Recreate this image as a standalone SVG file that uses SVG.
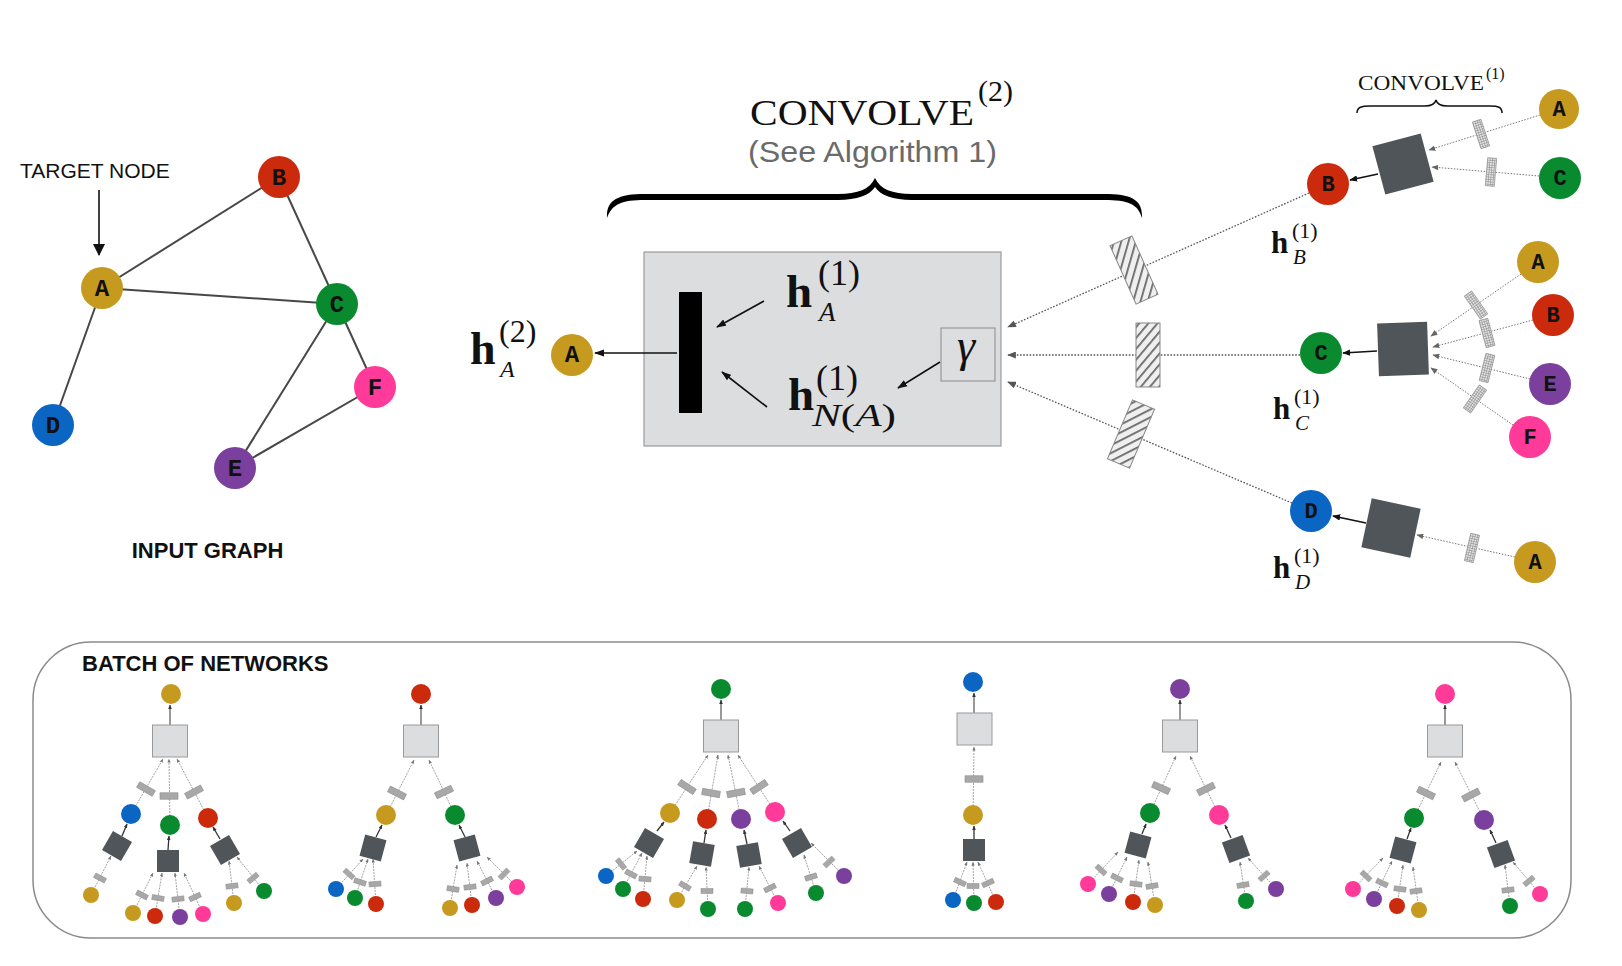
<svg xmlns="http://www.w3.org/2000/svg" width="1622" height="966" viewBox="0 0 1622 966">
<defs>
<style>
.edge{stroke:#474747;stroke-width:2;fill:none}
.lbl{font-family:"Liberation Mono","DejaVu Sans Mono",monospace;font-weight:bold;font-size:24px;text-anchor:middle;fill:#111}
.lbl2{font-family:"Liberation Mono","DejaVu Sans Mono",monospace;font-weight:bold;font-size:22px;text-anchor:middle;fill:#111}
.sans{font-family:"Liberation Sans",Arial,sans-serif}
.serif{font-family:"Liberation Serif","Times New Roman",serif;fill:#111}
.hb{font-family:"Liberation Serif","Times New Roman",serif;font-weight:bold;fill:#111}
.it{font-style:italic}
.arr{stroke:#111;stroke-width:1.6;fill:none}
.dot{stroke:#555;stroke-width:1.3;stroke-dasharray:1.6 1.6;fill:none}
.dot2{stroke:#777;stroke-width:1;stroke-dasharray:1.5 1.5;fill:none}
.dsqb{fill:#50555A}
.bl{stroke:#9a9a9a;stroke-width:0.9;stroke-dasharray:2 1;fill:none}
.ba{stroke:#333;stroke-width:1.3;fill:none}
.ra{stroke:#555;stroke-width:1.2;fill:none}
.gold{fill:#C69A1E}
.red{fill:#CC2A0C}
.green{fill:#0A8A2F}
.blue{fill:#0B66C3}
.purple{fill:#7B3F9D}
.pink{fill:#FF3A98}
</style>
<marker id="ah" viewBox="0 0 10 8" refX="9" refY="4" markerWidth="10" markerHeight="8" markerUnits="userSpaceOnUse" orient="auto"><path d="M0,0.5 L10,4 L0,7.5 z" fill="#111"/></marker>
<marker id="ahL" viewBox="0 0 12 12" refX="11" refY="6" markerWidth="12" markerHeight="12" markerUnits="userSpaceOnUse" orient="auto"><path d="M0,0 L12,6 L0,12 z" fill="#111"/></marker>
<marker id="ahs" viewBox="0 0 10 8" refX="9" refY="4" markerWidth="8" markerHeight="6.4" markerUnits="userSpaceOnUse" orient="auto"><path d="M0,0 L10,4 L0,8 z" fill="#111"/></marker>
<marker id="ahg" viewBox="0 0 10 8" refX="9" refY="4" markerWidth="9" markerHeight="7" markerUnits="userSpaceOnUse" orient="auto"><path d="M0,0 L10,4 L0,8 z" fill="#555"/></marker>
<marker id="ahg2" viewBox="0 0 10 8" refX="9" refY="4" markerWidth="7" markerHeight="5.6" markerUnits="userSpaceOnUse" orient="auto"><path d="M0,0 L10,4 L0,8 z" fill="#666"/></marker>
<marker id="aht" viewBox="0 0 10 8" refX="9" refY="4" markerWidth="4.5" markerHeight="3.6" markerUnits="userSpaceOnUse" orient="auto"><path d="M0,0 L10,4 L0,8 z" fill="#333"/></marker>
<marker id="ahtg" viewBox="0 0 10 8" refX="9" refY="4" markerWidth="4" markerHeight="3.2" markerUnits="userSpaceOnUse" orient="auto"><path d="M0,0 L10,4 L0,8 z" fill="#777"/></marker>
<pattern id="hatch" width="7" height="7" patternUnits="userSpaceOnUse" patternTransform="rotate(40)">
<rect width="7" height="7" fill="#EFEFEF"/>
<rect width="1.8" height="7" fill="#6a6a6a"/>
</pattern>
<pattern id="grid" width="2.4" height="2.4" patternUnits="userSpaceOnUse">
<rect width="2.4" height="2.4" fill="#E2E2E2"/>
<path d="M0,0.3H2.4M0.3,0V2.4" stroke="#8c8c8c" stroke-width="0.6"/>
</pattern>
<rect id="hlens" x="-12" y="-32" width="24" height="64" fill="url(#hatch)" stroke="#888" stroke-width="1"/>
<rect id="glens" x="-4.5" y="-14" width="9" height="28" fill="url(#grid)" stroke="#999" stroke-width="0.8"/>
<rect id="lens" x="-9" y="-3.2" width="18" height="6.4" fill="#A8A8A8" stroke="#8a8a8a" stroke-width="0.6"/>
<rect id="lens2" x="-6" y="-2.5" width="12" height="5" fill="#A8A8A8" stroke="#8a8a8a" stroke-width="0.5"/>
<rect id="dsq" x="-11" y="-11" width="22" height="22" fill="#50555A"/>
<rect id="lsq" x="-17.5" y="-16" width="35" height="32" fill="#DCDDDF" stroke="#9a9a9a" stroke-width="1"/>
</defs>
<rect width="1622" height="966" fill="#fff"/>

<!-- INPUT GRAPH -->
<g id="input-graph">
<g id="input-graph-connectors">
<line class="edge" x1="102" y1="288" x2="279" y2="177"/>
<line class="edge" x1="102" y1="288" x2="337" y2="304"/>
<line class="edge" x1="102" y1="288" x2="53" y2="425"/>
<line class="edge" x1="279" y1="177" x2="337" y2="304"/>
<line class="edge" x1="337" y1="304" x2="235" y2="468"/>
<line class="edge" x1="337" y1="304" x2="375" y2="387"/>
<line class="edge" x1="235" y1="468" x2="375" y2="387"/>
<line class="arr" x1="99" y1="190" x2="99" y2="255" marker-end="url(#ahL)"/>
</g>
<g id="in-A"><circle class="gold" cx="102" cy="288" r="21"/><text class="lbl" x="102" y="296">A</text></g>
<g id="in-B"><circle class="red" cx="279" cy="177" r="21"/><text class="lbl" x="279" y="185">B</text></g>
<g id="in-C"><circle class="green" cx="337" cy="304" r="21"/><text class="lbl" x="337" y="312">C</text></g>
<g id="in-D"><circle class="blue" cx="53" cy="425" r="21"/><text class="lbl" x="53" y="433">D</text></g>
<g id="in-E"><circle class="purple" cx="235" cy="468" r="21"/><text class="lbl" x="235" y="476">E</text></g>
<g id="in-F"><circle class="pink" cx="375" cy="387" r="21"/><text class="lbl" x="375" y="395">F</text></g>
<text class="sans" x="20" y="178" font-size="21" fill="#111">TARGET NODE</text>
<text class="sans" x="207.5" y="558" font-size="22" font-weight="bold" text-anchor="middle" fill="#111">INPUT GRAPH</text>
</g>

<!-- CONVOLVE(2) header -->
<g id="convolve2-label">
<text class="serif" x="750" y="125" font-size="35" textLength="224" lengthAdjust="spacingAndGlyphs">CONVOLVE</text>
<text class="serif" x="978" y="101" font-size="30">(2)</text>
<text class="sans" x="748" y="162" font-size="30" fill="#6a6a6a" textLength="249" lengthAdjust="spacingAndGlyphs">(See Algorithm 1)</text>
<path d="M607,218 C606,200 618,194 645,194 L838,194 C858,194 870,189 875,178 C880,189 892,194 912,194 L1104,194 C1132,194 1143,200 1142,218 C1138,204 1128,200 1104,200 L912,200 C893,200 880,195 875,187 C870,195 857,200 838,200 L645,200 C622,200 612,204 607,218 Z" fill="#000"/>
</g>

<!-- main aggregation box -->
<g id="conv-box"><rect x="644" y="252" width="357" height="194" fill="#DCDDDF" stroke="#9c9c9c" stroke-width="1.2"/></g>
<g id="concat-bar"><rect x="679" y="292" width="23" height="121" fill="#000"/></g>
<g id="gamma-box"><rect x="941" y="328" width="54" height="53" fill="#DCDDDF" stroke="#999" stroke-width="1.2"/><text class="serif it" x="966" y="361" font-size="46" text-anchor="middle">γ</text></g>
<g id="label-hA1">
<text class="hb" x="786" y="307" font-size="47">h</text>
<text class="serif" x="818" y="285" font-size="36">(1)</text>
<text class="serif it" x="819" y="321" font-size="27">A</text>
</g>
<g id="label-hNA1">
<text class="hb" x="788" y="410" font-size="47">h</text>
<text class="serif" x="816" y="390" font-size="36">(1)</text>
<text class="serif" x="812" y="426" font-size="31" textLength="84" lengthAdjust="spacingAndGlyphs"><tspan font-style="italic">N</tspan>(<tspan font-style="italic">A</tspan>)</text>
</g>
<g id="label-hA2">
<text class="hb" x="470" y="364" font-size="46">h</text>
<text class="serif" x="499" y="342" font-size="32">(2)</text>
<text class="serif it" x="500" y="377" font-size="24">A</text>
</g>
<g id="node-A-out"><circle class="gold" cx="572" cy="355" r="21"/><text class="lbl" x="572" y="362" font-size="20">A</text></g>

<!-- connectors of the upper part -->
<g id="connectors-main">
<line class="arr" x1="677" y1="353" x2="595" y2="353" marker-end="url(#ah)"/>
<line class="arr" x1="764" y1="301" x2="717" y2="327" marker-end="url(#ah)"/>
<line class="arr" x1="767" y1="407" x2="722" y2="372" marker-end="url(#ah)"/>
<line class="arr" x1="940" y1="362" x2="898" y2="388" marker-end="url(#ah)"/>
<line class="dot" x1="1309" y1="193" x2="1008" y2="327" marker-end="url(#ahg)"/>
<line class="dot" x1="1300" y1="355" x2="1008" y2="355" marker-end="url(#ahg)"/>
<line class="dot" x1="1292" y1="503" x2="1008" y2="382" marker-end="url(#ahg)"/>
<use href="#hlens" transform="translate(1134 270) rotate(-24)"/>
<use href="#hlens" transform="translate(1148 355)"/>
<use href="#hlens" transform="translate(1131 434) rotate(23)"/>
<line class="dot2" x1="1540" y1="115" x2="1429" y2="150" marker-end="url(#ahg2)"/>
<line class="dot2" x1="1539" y1="176" x2="1432" y2="167" marker-end="url(#ahg2)"/>
<use href="#glens" transform="translate(1481 134) rotate(-18)"/>
<use href="#glens" transform="translate(1491 172) rotate(5)"/>
<line class="arr" x1="1378" y1="174" x2="1350" y2="180" stroke-width="1.5" marker-end="url(#ahs)"/>
<line class="dot2" x1="1521" y1="274" x2="1431" y2="336" marker-end="url(#ahg2)"/>
<line class="dot2" x1="1533" y1="320" x2="1433" y2="347" marker-end="url(#ahg2)"/>
<line class="dot2" x1="1530" y1="379" x2="1433" y2="355" marker-end="url(#ahg2)"/>
<line class="dot2" x1="1513" y1="425" x2="1431" y2="368" marker-end="url(#ahg2)"/>
<use href="#glens" transform="translate(1476 305) rotate(-35)"/>
<use href="#glens" transform="translate(1487 333) rotate(-15)"/>
<use href="#glens" transform="translate(1487 368) rotate(14)"/>
<use href="#glens" transform="translate(1475 399) rotate(35)"/>
<line class="arr" x1="1377" y1="351" x2="1343" y2="353" stroke-width="1.5" marker-end="url(#ahs)"/>
<line class="dot2" x1="1515" y1="557" x2="1417" y2="535" marker-end="url(#ahg2)"/>
<use href="#glens" transform="translate(1472 548) rotate(13)"/>
<line class="arr" x1="1366" y1="523" x2="1333" y2="516" stroke-width="1.5" marker-end="url(#ahs)"/>
</g>

<!-- CONVOLVE(1) label -->
<g id="convolve1-label">
<text class="serif" x="1358" y="90" font-size="20" textLength="126" lengthAdjust="spacingAndGlyphs">CONVOLVE</text>
<text class="serif" x="1486" y="79" font-size="16">(1)</text>
<path d="M1357,113 C1357,107 1362,106 1370,106 L1425,106 C1432,106 1435,104 1436,100 C1437,104 1440,106 1447,106 L1490,106 C1498,106 1502,107 1502,113" fill="none" stroke="#111" stroke-width="1.5"/>
</g>

<!-- right clusters -->
<g id="agg-B"><rect class="dsqb" x="-25" y="-25" width="50" height="50" transform="translate(1403 164) rotate(-15)"/></g>
<g id="agg-C"><rect class="dsqb" x="-25" y="-26.5" width="50" height="53" transform="translate(1403 349) rotate(-2)"/></g>
<g id="agg-D"><rect class="dsqb" x="-25" y="-25" width="50" height="50" transform="translate(1391 528) rotate(12)"/></g>
<g id="r-B"><circle class="red" cx="1328" cy="184" r="21"/><text class="lbl2" x="1328" y="191">B</text></g>
<g id="r-B-A"><circle class="gold" cx="1559" cy="109" r="20"/><text class="lbl2" x="1559" y="116">A</text></g>
<g id="r-B-C"><circle class="green" cx="1560" cy="178" r="21"/><text class="lbl2" x="1560" y="185">C</text></g>
<g id="r-C"><circle class="green" cx="1321" cy="353" r="21"/><text class="lbl2" x="1321" y="360">C</text></g>
<g id="r-C-A"><circle class="gold" cx="1538" cy="262" r="21"/><text class="lbl2" x="1538" y="269">A</text></g>
<g id="r-C-B"><circle class="red" cx="1553" cy="315" r="21"/><text class="lbl2" x="1553" y="322">B</text></g>
<g id="r-C-E"><circle class="purple" cx="1550" cy="384" r="21"/><text class="lbl2" x="1550" y="391">E</text></g>
<g id="r-C-F"><circle class="pink" cx="1530" cy="437" r="21"/><text class="lbl2" x="1530" y="444">F</text></g>
<g id="r-D"><circle class="blue" cx="1311" cy="511" r="21"/><text class="lbl2" x="1311" y="518">D</text></g>
<g id="r-D-A"><circle class="gold" cx="1535" cy="562" r="21"/><text class="lbl2" x="1535" y="569">A</text></g>
<g id="label-hB1">
<text class="hb" x="1271" y="253" font-size="31">h</text>
<text class="serif" x="1292" y="238" font-size="22">(1)</text>
<text class="serif it" x="1293" y="264" font-size="21">B</text>
</g>
<g id="label-hC1">
<text class="hb" x="1273" y="419" font-size="31">h</text>
<text class="serif" x="1294" y="404" font-size="22">(1)</text>
<text class="serif it" x="1295" y="430" font-size="21">C</text>
</g>
<g id="label-hD1">
<text class="hb" x="1273" y="578" font-size="31">h</text>
<text class="serif" x="1294" y="563" font-size="22">(1)</text>
<text class="serif it" x="1295" y="589" font-size="21">D</text>
</g>

<!-- BATCH OF NETWORKS -->
<g id="batch-panel">
<rect x="33" y="642" width="1538" height="296" rx="58" ry="58" fill="none" stroke="#8a8a8a" stroke-width="1.5"/>
<text class="sans" x="82" y="671" font-size="22" font-weight="bold" fill="#111">BATCH OF NETWORKS</text>
</g>

<g id="tree-1">
<g id="tree-1-links">
<line class="ra" x1="170" y1="725" x2="170" y2="705" marker-end="url(#aht)"/>
<line class="bl" x1="131" y1="814" x2="163" y2="759" marker-end="url(#ahtg)"/>
<line class="bl" x1="170" y1="825" x2="169" y2="759" marker-end="url(#ahtg)"/>
<line class="bl" x1="208" y1="818" x2="177" y2="759" marker-end="url(#ahtg)"/>
<line class="ba" x1="122" y1="836" x2="127" y2="824" marker-end="url(#aht)"/>
<line class="ba" x1="168" y1="850" x2="169" y2="836" marker-end="url(#aht)"/>
<line class="ba" x1="220" y1="839" x2="213" y2="827" marker-end="url(#aht)"/>
<line class="bl" x1="91" y1="895" x2="111" y2="856" marker-end="url(#ahtg)"/>
<line class="bl" x1="133" y1="913" x2="153" y2="873" marker-end="url(#ahtg)"/>
<line class="bl" x1="155" y1="916" x2="162" y2="873" marker-end="url(#ahtg)"/>
<line class="bl" x1="180" y1="917" x2="175" y2="873" marker-end="url(#ahtg)"/>
<line class="bl" x1="203" y1="914" x2="184" y2="873" marker-end="url(#ahtg)"/>
<line class="bl" x1="234" y1="903" x2="229" y2="861" marker-end="url(#ahtg)"/>
<line class="bl" x1="264" y1="891" x2="237" y2="857" marker-end="url(#ahtg)"/>
<use href="#lens" transform="translate(146 789) rotate(30)"/>
<use href="#lens" transform="translate(169 796)"/>
<use href="#lens" transform="translate(194 792) rotate(-28)"/>
<use href="#lens2" transform="translate(100 878) rotate(28)"/>
<use href="#lens2" transform="translate(142 895) rotate(27)"/>
<use href="#lens2" transform="translate(158 898) rotate(10)"/>
<use href="#lens2" transform="translate(178 899) rotate(-7)"/>
<use href="#lens2" transform="translate(195 897) rotate(-25)"/>
<use href="#lens2" transform="translate(232 886) rotate(-7)"/>
<use href="#lens2" transform="translate(253 878) rotate(-40)"/>
</g>
<use href="#lsq" x="170" y="741"/>
<use href="#dsq" transform="translate(117 846) rotate(30)"/>
<use href="#dsq" transform="translate(168 861)"/>
<use href="#dsq" transform="translate(225 850) rotate(-30)"/>
<circle class="gold" cx="171" cy="694" r="10"/>
<circle class="blue" cx="131" cy="814" r="10"/>
<circle class="green" cx="170" cy="825" r="10"/>
<circle class="red" cx="208" cy="818" r="10"/>
<circle class="gold" cx="91" cy="895" r="8"/>
<circle class="gold" cx="133" cy="913" r="8"/>
<circle class="red" cx="155" cy="916" r="8"/>
<circle class="purple" cx="180" cy="917" r="8"/>
<circle class="pink" cx="203" cy="914" r="8"/>
<circle class="gold" cx="234" cy="903" r="8"/>
<circle class="green" cx="264" cy="891" r="8"/>
</g>

<g id="tree-2">
<g id="tree-2-links">
<line class="ra" x1="421" y1="725" x2="421" y2="705" marker-end="url(#aht)"/>
<line class="bl" x1="386" y1="815" x2="414" y2="760" marker-end="url(#ahtg)"/>
<line class="bl" x1="455" y1="815" x2="429" y2="760" marker-end="url(#ahtg)"/>
<line class="ba" x1="376" y1="837" x2="382" y2="825" marker-end="url(#aht)"/>
<line class="ba" x1="465" y1="837" x2="459" y2="825" marker-end="url(#aht)"/>
<line class="bl" x1="336" y1="889" x2="363" y2="859" marker-end="url(#ahtg)"/>
<line class="bl" x1="355" y1="898" x2="368" y2="859" marker-end="url(#ahtg)"/>
<line class="bl" x1="376" y1="904" x2="373" y2="859" marker-end="url(#ahtg)"/>
<line class="bl" x1="450" y1="908" x2="457" y2="865" marker-end="url(#ahtg)"/>
<line class="bl" x1="472" y1="905" x2="467" y2="863" marker-end="url(#ahtg)"/>
<line class="bl" x1="496" y1="898" x2="477" y2="861" marker-end="url(#ahtg)"/>
<line class="bl" x1="517" y1="887" x2="487" y2="857" marker-end="url(#ahtg)"/>
<use href="#lens" transform="translate(397 793) rotate(27)"/>
<use href="#lens" transform="translate(444 792) rotate(-25)"/>
<use href="#lens2" transform="translate(349 874) rotate(42)"/>
<use href="#lens2" transform="translate(360 882) rotate(18)"/>
<use href="#lens2" transform="translate(375 884) rotate(-4)"/>
<use href="#lens2" transform="translate(453 889) rotate(9)"/>
<use href="#lens2" transform="translate(470 887) rotate(-7)"/>
<use href="#lens2" transform="translate(487 881) rotate(-27)"/>
<use href="#lens2" transform="translate(504 874) rotate(-45)"/>
</g>
<use href="#lsq" x="421" y="741"/>
<use href="#dsq" transform="translate(373 848) rotate(15)"/>
<use href="#dsq" transform="translate(467 848) rotate(-15)"/>
<circle class="red" cx="421" cy="694" r="10"/>
<circle class="gold" cx="386" cy="815" r="10"/>
<circle class="green" cx="455" cy="815" r="10"/>
<circle class="blue" cx="336" cy="889" r="8"/>
<circle class="green" cx="355" cy="898" r="8"/>
<circle class="red" cx="376" cy="904" r="8"/>
<circle class="gold" cx="450" cy="908" r="8"/>
<circle class="red" cx="472" cy="905" r="8"/>
<circle class="purple" cx="496" cy="898" r="8"/>
<circle class="pink" cx="517" cy="887" r="8"/>
</g>

<g id="tree-3">
<g id="tree-3-links">
<line class="ra" x1="721" y1="720" x2="721" y2="700" marker-end="url(#aht)"/>
<line class="bl" x1="670" y1="813" x2="708" y2="755" marker-end="url(#ahtg)"/>
<line class="bl" x1="707" y1="819" x2="718" y2="755" marker-end="url(#ahtg)"/>
<line class="bl" x1="741" y1="819" x2="728" y2="755" marker-end="url(#ahtg)"/>
<line class="bl" x1="775" y1="812" x2="738" y2="755" marker-end="url(#ahtg)"/>
<line class="ba" x1="657" y1="831" x2="664" y2="822" marker-end="url(#aht)"/>
<line class="ba" x1="704" y1="843" x2="706" y2="830" marker-end="url(#aht)"/>
<line class="ba" x1="747" y1="844" x2="744" y2="830" marker-end="url(#aht)"/>
<line class="ba" x1="790" y1="831" x2="783" y2="821" marker-end="url(#aht)"/>
<line class="bl" x1="606" y1="876" x2="637" y2="851" marker-end="url(#ahtg)"/>
<line class="bl" x1="623" y1="889" x2="642" y2="853" marker-end="url(#ahtg)"/>
<line class="bl" x1="643" y1="899" x2="647" y2="856" marker-end="url(#ahtg)"/>
<line class="bl" x1="677" y1="900" x2="697" y2="866" marker-end="url(#ahtg)"/>
<line class="bl" x1="708" y1="909" x2="706" y2="867" marker-end="url(#ahtg)"/>
<line class="bl" x1="745" y1="909" x2="749" y2="867" marker-end="url(#ahtg)"/>
<line class="bl" x1="778" y1="903" x2="759" y2="866" marker-end="url(#ahtg)"/>
<line class="bl" x1="816" y1="893" x2="804" y2="855" marker-end="url(#ahtg)"/>
<line class="bl" x1="844" y1="876" x2="811" y2="843" marker-end="url(#ahtg)"/>
<use href="#lens" transform="translate(687 787) rotate(33)"/>
<use href="#lens" transform="translate(711 793) rotate(10)"/>
<use href="#lens" transform="translate(736 793) rotate(-11)"/>
<use href="#lens" transform="translate(759 787) rotate(-33)"/>
<use href="#lens2" transform="translate(621 864) rotate(51)"/>
<use href="#lens2" transform="translate(631 874) rotate(28)"/>
<use href="#lens2" transform="translate(645 879) rotate(5)"/>
<use href="#lens2" transform="translate(685 886) rotate(30)"/>
<use href="#lens2" transform="translate(707 891)"/>
<use href="#lens2" transform="translate(747 891) rotate(5)"/>
<use href="#lens2" transform="translate(770 888) rotate(-27)"/>
<use href="#lens2" transform="translate(811 877) rotate(-17)"/>
<use href="#lens2" transform="translate(829 862) rotate(-43)"/>
</g>
<use href="#lsq" x="721" y="736"/>
<use href="#dsq" transform="translate(649 843) rotate(30)"/>
<use href="#dsq" transform="translate(702 854) rotate(10)"/>
<use href="#dsq" transform="translate(749 855) rotate(-10)"/>
<use href="#dsq" transform="translate(797 843) rotate(-30)"/>
<circle class="green" cx="721" cy="689" r="10"/>
<circle class="gold" cx="670" cy="813" r="10"/>
<circle class="red" cx="707" cy="819" r="10"/>
<circle class="purple" cx="741" cy="819" r="10"/>
<circle class="pink" cx="775" cy="812" r="10"/>
<circle class="blue" cx="606" cy="876" r="8"/>
<circle class="green" cx="623" cy="889" r="8"/>
<circle class="red" cx="643" cy="899" r="8"/>
<circle class="gold" cx="677" cy="900" r="8"/>
<circle class="green" cx="708" cy="909" r="8"/>
<circle class="green" cx="745" cy="909" r="8"/>
<circle class="pink" cx="778" cy="903" r="8"/>
<circle class="green" cx="816" cy="893" r="8"/>
<circle class="purple" cx="844" cy="876" r="8"/>
</g>

<g id="tree-4">
<g id="tree-4-links">
<line class="ra" x1="974" y1="713" x2="974" y2="693" marker-end="url(#aht)"/>
<line class="bl" x1="973" y1="815" x2="974" y2="747" marker-end="url(#ahtg)"/>
<line class="ba" x1="974" y1="839" x2="974" y2="826" marker-end="url(#aht)"/>
<line class="bl" x1="953" y1="900" x2="967" y2="862" marker-end="url(#ahtg)"/>
<line class="bl" x1="974" y1="903" x2="973" y2="862" marker-end="url(#ahtg)"/>
<line class="bl" x1="996" y1="902" x2="978" y2="862" marker-end="url(#ahtg)"/>
<use href="#lens" transform="translate(974 779)"/>
<use href="#lens2" transform="translate(960 882) rotate(25)"/>
<use href="#lens2" transform="translate(973 886)"/>
<use href="#lens2" transform="translate(988 883) rotate(-24)"/>
</g>
<use href="#lsq" x="974.5" y="729"/>
<use href="#dsq" transform="translate(974 850)"/>
<circle class="blue" cx="973" cy="682" r="10"/>
<circle class="gold" cx="973" cy="815" r="10"/>
<circle class="blue" cx="953" cy="900" r="8"/>
<circle class="green" cx="974" cy="903" r="8"/>
<circle class="red" cx="996" cy="902" r="8"/>
</g>

<g id="tree-5">
<g id="tree-5-links">
<line class="ra" x1="1180" y1="720" x2="1180" y2="700" marker-end="url(#aht)"/>
<line class="bl" x1="1150" y1="813" x2="1176" y2="756" marker-end="url(#ahtg)"/>
<line class="bl" x1="1219" y1="815" x2="1190" y2="756" marker-end="url(#ahtg)"/>
<line class="ba" x1="1142" y1="834" x2="1146" y2="824" marker-end="url(#aht)"/>
<line class="ba" x1="1231" y1="838" x2="1225" y2="825" marker-end="url(#aht)"/>
<line class="bl" x1="1088" y1="884" x2="1118" y2="852" marker-end="url(#ahtg)"/>
<line class="bl" x1="1109" y1="894" x2="1127" y2="857" marker-end="url(#ahtg)"/>
<line class="bl" x1="1133" y1="902" x2="1139" y2="860" marker-end="url(#ahtg)"/>
<line class="bl" x1="1155" y1="905" x2="1148" y2="862" marker-end="url(#ahtg)"/>
<line class="bl" x1="1246" y1="901" x2="1240" y2="862" marker-end="url(#ahtg)"/>
<line class="bl" x1="1276" y1="889" x2="1248" y2="858" marker-end="url(#ahtg)"/>
<use href="#lens" transform="translate(1161 788) rotate(24)"/>
<use href="#lens" transform="translate(1206 789) rotate(-26)"/>
<use href="#lens2" transform="translate(1101 870) rotate(43)"/>
<use href="#lens2" transform="translate(1117 878) rotate(26)"/>
<use href="#lens2" transform="translate(1136 884) rotate(8)"/>
<use href="#lens2" transform="translate(1152 886) rotate(-9)"/>
<use href="#lens2" transform="translate(1243 885) rotate(-9)"/>
<use href="#lens2" transform="translate(1264 876) rotate(-42)"/>
</g>
<use href="#lsq" x="1180" y="736"/>
<use href="#dsq" transform="translate(1138 845) rotate(15)"/>
<use href="#dsq" transform="translate(1236 849) rotate(-20)"/>
<circle class="purple" cx="1180" cy="689" r="10"/>
<circle class="green" cx="1150" cy="813" r="10"/>
<circle class="pink" cx="1219" cy="815" r="10"/>
<circle class="pink" cx="1088" cy="884" r="8"/>
<circle class="purple" cx="1109" cy="894" r="8"/>
<circle class="red" cx="1133" cy="902" r="8"/>
<circle class="gold" cx="1155" cy="905" r="8"/>
<circle class="green" cx="1246" cy="901" r="8"/>
<circle class="purple" cx="1276" cy="889" r="8"/>
</g>

<g id="tree-6">
<g id="tree-6-links">
<line class="ra" x1="1445" y1="725" x2="1445" y2="705" marker-end="url(#aht)"/>
<line class="bl" x1="1414" y1="818" x2="1441" y2="762" marker-end="url(#ahtg)"/>
<line class="bl" x1="1484" y1="820" x2="1455" y2="762" marker-end="url(#ahtg)"/>
<line class="ba" x1="1407" y1="839" x2="1411" y2="828" marker-end="url(#aht)"/>
<line class="ba" x1="1496" y1="843" x2="1490" y2="830" marker-end="url(#aht)"/>
<line class="bl" x1="1353" y1="889" x2="1383" y2="858" marker-end="url(#ahtg)"/>
<line class="bl" x1="1374" y1="899" x2="1392" y2="861" marker-end="url(#ahtg)"/>
<line class="bl" x1="1397" y1="906" x2="1403" y2="865" marker-end="url(#ahtg)"/>
<line class="bl" x1="1419" y1="910" x2="1413" y2="867" marker-end="url(#ahtg)"/>
<line class="bl" x1="1510" y1="906" x2="1505" y2="865" marker-end="url(#ahtg)"/>
<line class="bl" x1="1540" y1="894" x2="1513" y2="862" marker-end="url(#ahtg)"/>
<use href="#lens" transform="translate(1426 793) rotate(26)"/>
<use href="#lens" transform="translate(1471 795) rotate(-27)"/>
<use href="#lens2" transform="translate(1366 876) rotate(44)"/>
<use href="#lens2" transform="translate(1382 883) rotate(25)"/>
<use href="#lens2" transform="translate(1400 889) rotate(8)"/>
<use href="#lens2" transform="translate(1416 891) rotate(-8)"/>
<use href="#lens2" transform="translate(1508 890) rotate(-7)"/>
<use href="#lens2" transform="translate(1529 881) rotate(-40)"/>
</g>
<use href="#lsq" x="1445" y="741"/>
<use href="#dsq" transform="translate(1403 850) rotate(15)"/>
<use href="#dsq" transform="translate(1501 854) rotate(-20)"/>
<circle class="pink" cx="1445" cy="694" r="10"/>
<circle class="green" cx="1414" cy="818" r="10"/>
<circle class="purple" cx="1484" cy="820" r="10"/>
<circle class="pink" cx="1353" cy="889" r="8"/>
<circle class="purple" cx="1374" cy="899" r="8"/>
<circle class="red" cx="1397" cy="906" r="8"/>
<circle class="gold" cx="1419" cy="910" r="8"/>
<circle class="green" cx="1510" cy="906" r="8"/>
<circle class="pink" cx="1540" cy="894" r="8"/>
</g>
</svg>
